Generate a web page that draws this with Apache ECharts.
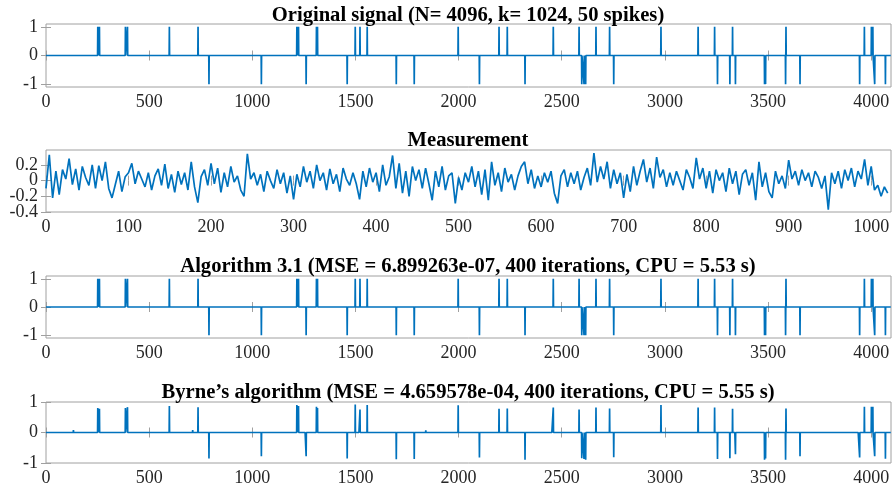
<!DOCTYPE html>
<html>
<head>
<meta charset="utf-8">
<script src="https://cdn.jsdelivr.net/npm/echarts@6/dist/echarts.min.js"></script>
<style>
  html, body { margin: 0; padding: 0; background: #fff; }
  #chart { width: 893px; height: 493px; }
</style>
</head>
<body>
<div id="chart"></div>
<script>
// spike positions (sample index) and values
var N = 4096;
var spikeIdx = [251, 259, 385, 395, 598, 737, 790, 1044, 1216, 1224, 1261, 1311, 1316, 1460, 1499, 1522, 1557, 1698, 1785, 1998,
  2101, 2196, 2236, 2322, 2459, 2584, 2597, 2608, 2616, 2666, 2732, 2752, 2981, 3161, 3241, 3255, 3315, 3328, 3342, 3483,
  3488, 3585, 3587, 3655, 3944, 3967, 4001, 4008, 4017, 4069];
var origVals = [1, 1, 1, 1, 1, 1, -1, -1, 1, 1, -1, 1, 1, -1, 1, 1, 1, -1, -1, 1,
  -1, 1, 1, -1, 1, 1, -1, -1, -1, 1, 1, -1, 1, 1, 1, -1, -1, 1, -1, -1,
  -1, -1, 1, -1, -1, 1, 1, 1, -1, -1];
var alg31Vals = origVals.slice();
var byrneVals = [0.8, 0.78, 0.8, 0.83, 0.87, 0.83, -0.85, -0.78, 0.9, 0.87, -0.78, 0.84, 0.8, -0.85, 0.92, 0.75, 0.9, -0.88, -0.87, 0.89,
  -0.82, 0.78, 0.79, -0.89, 0.82, 0.75, -0.84, -0.87, -0.89, 0.82, 0.79, -0.81, 0.9, 0.82, 0.82, -0.87, -0.84, 0.78, -0.71, -0.89,
  -0.85, -0.89, 0.79, -0.78, -0.82, 0.84, 0.84, 0.84, -0.78, -0.86];
// small residual values left by Byrne's algorithm
var byrneResIdx = [33, 74, 133, 280, 298, 445, 468, 509, 533, 638, 711, 755, 815, 873, 937, 977, 1131, 1179, 1257, 1292,
  1365, 1518, 1590, 1631, 1712, 1841, 1873, 1906, 2033, 2106, 2162, 2340, 2437, 2453, 2590, 2646, 2840, 2937, 3050, 3292,
  3340, 3599, 3663, 3696, 3906, 3938];
var byrneResVals = [-0.03, 0.03, 0.08, 0.05, -0.04, 0.06, 0.04, 0.04, 0.05, -0.06, 0.08, 0.05, 0.05, -0.03, 0.04, 0.05, 0.04, 0.05, 0.06, -0.04,
  -0.03, 0.05, -0.04, 0.03, -0.04, 0.07, -0.05, -0.05, -0.04, 0.05, 0.03, -0.04, 0.05, -0.04, 0.06, 0.04, -0.03, 0.04, -0.04, -0.05,
  0.05, 0.06, 0.04, -0.05, -0.04, 0.05];

// measurement (1024 samples, read every 4th)
var measStep = 4;
var measVals = [
  -0.1, 0.33, -0.22, 0.12, -0.18, 0.14, 0.02, 0.28, -0.05, 0.15, -0.12, 0.18, 0.04, -0.06, 0.2, -0.1, 0.19, 0.0, 0.24, -0.1, -0.22, -0.05, 0.12, -0.14, 0.05,
  0.1, 0.22, -0.04, 0.12, 0.02, -0.08, 0.1, -0.12, 0.06, 0.15, -0.06, 0.21, -0.1, 0.08, -0.15, 0.12, -0.05, 0.1, -0.12, 0.24, -0.08, -0.28, 0.05, 0.14, -0.06,
  0.22, -0.04, 0.16, -0.15, 0.1, -0.08, 0.18, -0.02, 0.06, -0.12, -0.2, 0.34, 0.02, 0.1, -0.06, 0.08, -0.14, 0.12, 0.0, -0.1, 0.14, -0.04, 0.1, -0.16, 0.06,
  -0.24, 0.08, -0.08, 0.18, -0.02, 0.12, -0.1, 0.2, 0.0, 0.1, -0.12, 0.15, -0.04, 0.08, -0.14, 0.16, 0.02, -0.06, 0.1, -0.04, -0.24, 0.12, -0.08, 0.16, -0.02,
  0.1, -0.14, 0.2, -0.06, 0.05, 0.32, -0.1, 0.22, -0.16, 0.12, -0.2, 0.18, 0.0, 0.14, -0.1, 0.16, -0.04, -0.25, 0.12, -0.08, 0.18, -0.12, 0.06, 0.1, -0.29,
  0.04, -0.12, 0.1, -0.02, 0.18, -0.08, 0.12, -0.18, 0.14, -0.25, 0.24, -0.06, 0.1, -0.14, 0.16, -0.02, 0.08, -0.12, 0.06, 0.18, 0.24, -0.04, 0.14, -0.1, 0.06,
  -0.08, 0.1, -0.02, 0.12, -0.16, -0.29, 0.06, 0.14, -0.08, 0.1, -0.04, 0.12, -0.12, 0.04, 0.16, -0.06, 0.35, -0.02, 0.18, 0.02, 0.24, -0.1, 0.14, -0.04, 0.1,
  -0.22, 0.08, -0.14, 0.18, -0.06, 0.12, 0.27, -0.02, 0.16, -0.1, 0.3, 0.04, 0.14, -0.08, 0.1, -0.06, 0.12, 0.0, -0.12, 0.14, 0.04, -0.1, 0.29, 0.02, 0.16,
  -0.1, 0.12, -0.16, 0.14, 0.0, 0.1, -0.14, 0.16, -0.04, 0.12, -0.18, 0.08, 0.14, -0.06, 0.1, -0.25, 0.24, -0.08, 0.1, -0.14, -0.22, 0.12, -0.04, 0.06, -0.1,
  0.26, 0.02, 0.12, -0.06, 0.14, 0.0, 0.1, -0.08, 0.12, 0.04, -0.1, 0.06, -0.37, 0.1, -0.04, 0.12, -0.1, 0.14, 0.0, 0.16, -0.08, 0.12, 0.02, 0.27, -0.06,
  0.18, -0.12, -0.06, -0.2, -0.08, -0.16
];

// tick labels
var sigTicksX = [0, 500, 1000, 1500, 2000, 2500, 3000, 3500, 4000];
var sigTicksY = [-1, 0, 1];
var measTicksX = [0, 100, 200, 300, 400, 500, 600, 700, 800, 900, 1000];
var measTicksY = [-0.4, -0.2, 0, 0.2];

var titles = [
  'Original signal (N= 4096, k= 1024, 50 spikes)',
  'Measurement',
  'Algorithm 3.1 (MSE = 6.899263e-07, 400 iterations, CPU = 5.53 s)',
  'Byrne\u2019s algorithm (MSE = 4.659578e-04, 400 iterations, CPU = 5.55 s)'
];

// sparse signal -> polyline points (zeros kept only next to nonzero samples)
function buildSignal(idx, vals, resIdx, resVals) {
  var pts = idx.map(function (k, i) { return [k, vals[i]]; });
  if (resIdx) resIdx.forEach(function (k, i) { pts.push([k, resVals[i]]); });
  pts.sort(function (a, b) { return a[0] - b[0]; });
  var out = [[0, 0]];
  pts.forEach(function (p) {
    out.push([p[0] - 1, 0], p, [p[0] + 1, 0]);
  });
  out.push([N - 1, 0]);
  return out;
}

var origData = buildSignal(spikeIdx, origVals);
var alg31Data = buildSignal(spikeIdx, alg31Vals);
var byrneData = buildSignal(spikeIdx, byrneVals, byrneResIdx, byrneResVals);
var measData = measVals.map(function (v, i) { return [i * measStep, v]; });

var FONT = '"Liberation Serif", "Times New Roman", serif';
var BOX = '#a0a0a0';
var LABEL = '#262626';
var BLUE = '#0072BD';

var panels = [
  { top: 24, height: 63, xmax: 4096, xt: sigTicksX, ymin: -1.1, ymax: 1.1, yt: sigTicksY, data: origData, titleY: 0 },
  { top: 150, height: 62, xmax: 1024, xt: measTicksX, ymin: -0.4, ymax: 0.39, yt: measTicksY, data: measData, titleY: 125 },
  { top: 276, height: 62, xmax: 4096, xt: sigTicksX, ymin: -1.1, ymax: 1.1, yt: sigTicksY, data: alg31Data, titleY: 251 },
  { top: 402, height: 61, xmax: 4096, xt: sigTicksX, ymin: -1, ymax: 1, yt: sigTicksY, data: byrneData, titleY: 377 }
];

var option = {
  animation: false,
  backgroundColor: '#fff',
  textStyle: { fontFamily: FONT },
  title: [], grid: [], xAxis: [], yAxis: [], series: []
};

var yFmt = function (v) { return String(Math.round(v * 10) / 10); };

panels.forEach(function (p, k) {
  option.title.push({
    text: titles[k], left: 463, top: p.titleY, textAlign: 'center',
    textStyle: { fontFamily: FONT, fontSize: 20.6, fontWeight: 'bold', color: '#000' }
  });
  option.grid.push({ left: 46, right: 2, top: p.top, height: p.height, show: true, borderColor: BOX, borderWidth: 1, backgroundColor: '#fff' });
  var tickStyle = { show: true, inside: true, length: 5, lineStyle: { color: BOX } };
  var xi = option.xAxis.length, yi = option.yAxis.length;
  // bottom axis with labels
  option.xAxis.push({
    type: 'value', gridIndex: k, min: 0, max: p.xmax, position: 'bottom',
    axisLine: { show: false }, splitLine: { show: false },
    axisTick: Object.assign({ customValues: p.xt }, tickStyle),
    axisLabel: { customValues: p.xt, fontFamily: FONT, fontSize: 18, color: LABEL, margin: 6,
      showMinLabel: true, showMaxLabel: true,
      formatter: function (v) { return String(v); } }
  });
  // top mirror ticks
  option.xAxis.push({
    type: 'value', gridIndex: k, min: 0, max: p.xmax, position: 'top',
    axisLine: { show: false }, splitLine: { show: false },
    axisTick: Object.assign({ customValues: p.xt }, tickStyle),
    axisLabel: { show: false }
  });
  // left axis: ticks + every other label; a twin left axis carries the rest (labels sit close together)
  var evenT = p.yt.filter(function (v, i) { return i % 2 === 0; });
  var oddT = p.yt.filter(function (v, i) { return i % 2 === 1; });
  option.yAxis.push({
    type: 'value', gridIndex: k, min: p.ymin, max: p.ymax, position: 'left',
    axisLine: { show: false }, splitLine: { show: false },
    axisTick: Object.assign({ customValues: p.yt }, tickStyle),
    axisLabel: { customValues: evenT, fontFamily: FONT, fontSize: 18, color: LABEL, margin: 8,
      showMinLabel: true, showMaxLabel: true, formatter: yFmt }
  });
  option.yAxis.push({
    type: 'value', gridIndex: k, min: p.ymin, max: p.ymax, position: 'right',
    axisLine: { show: false }, splitLine: { show: false },
    axisTick: Object.assign({ customValues: p.yt }, tickStyle),
    axisLabel: { show: false }
  });
  option.yAxis.push({
    type: 'value', gridIndex: k, min: p.ymin, max: p.ymax, position: 'left', offset: 0,
    axisLine: { show: false }, splitLine: { show: false }, axisTick: { show: false },
    axisLabel: { customValues: oddT, fontFamily: FONT, fontSize: 18, color: LABEL, margin: 8,
      showMinLabel: true, showMaxLabel: true, formatter: yFmt }
  });
  option.series.push({
    type: 'line', xAxisIndex: xi, yAxisIndex: yi, data: p.data,
    showSymbol: false, symbol: 'none', clip: true,
    lineStyle: { color: BLUE, width: 1.7 }
  });
});

var myChart = echarts.init(document.getElementById('chart'), null, { renderer: 'canvas' });
myChart.setOption(option);
</script>
</body>
</html>
